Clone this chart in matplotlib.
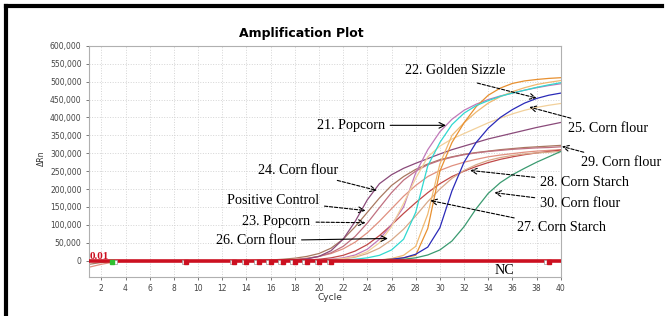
import numpy as np
import matplotlib.pyplot as plt
from matplotlib.ticker import FuncFormatter, MultipleLocator
from matplotlib.lines import Line2D

# циклы ПЦР
cycles = list(range(1, 41))

# значения dRn (тыс.), прочитаны с графика по циклам 1..40
brown = [-10, -5, -2, 0, 0, 0, 0, 0, 0, 0, 0, 0, 0, 0, 1, 2, 4, 7, 12, 20,
         35, 60, 95, 135, 175, 210, 235, 255, 270, 282, 290, 297, 302, 306, 310, 313, 316, 318, 320, 322]
salmon = [-18, -10, -4, -1, 0, 0, 0, 0, 0, 0, 0, 0, 0, 0, 0, 1, 2, 4, 7, 12,
          20, 33, 52, 78, 110, 145, 180, 210, 235, 252, 265, 275, 283, 290, 295, 299, 303, 306, 308, 310]
rose = [0, 0, 0, 0, 0, 0, 0, 0, 0, 0, 0, 0, 0, 0, 0, 0, 1, 3, 6, 12,
        22, 40, 68, 105, 148, 190, 225, 250, 268, 280, 289, 296, 301, 305, 308, 311, 313, 315, 316, 318]
red = [0, 0, 0, 0, 0, 0, 0, 0, 0, 0, 0, 0, 0, 0, 0, 0, 0, 1, 2, 4,
       8, 15, 27, 45, 70, 100, 132, 162, 190, 215, 235, 250, 263, 274, 283, 290, 296, 301, 305, 309]
tan = [0, 0, 0, 0, 0, 0, 0, 0, 0, 0, 0, 0, 0, 0, 0, 0, 0, 0, 0, 1,
       2, 5, 10, 20, 35, 58, 88, 125, 165, 200, 230, 252, 268, 280, 288, 294, 298, 301, 303, 305]
mauve = [0, 0, 0, 0, 0, 0, 0, 0, 0, 0, 0, 0, 0, 0, 0, 0, 1, 2, 5, 12,
         28, 60, 110, 170, 215, 240, 258, 272, 285, 298, 310, 320, 330, 340, 348, 356, 364, 372, 379, 386]
pink = [0, 0, 0, 0, 0, 0, 0, 0, 0, 0, 0, 0, 0, 0, 0, 0, 0, 0, 1, 2,
        4, 8, 16, 32, 60, 100, 150, 245, 310, 360, 395, 420, 437, 450, 460, 468, 476, 483, 489, 494]
cyan = [0, 0, 0, 0, 0, 0, 0, 0, 0, 0, 0, 0, 0, 0, 0, 0, 0, 0, 0, 0,
        1, 2, 4, 8, 15, 30, 60, 135, 265, 330, 380, 412, 433, 447, 459, 468, 476, 484, 491, 497]
peach = [0, 0, 0, 0, 0, 0, 0, 0, 0, 0, 0, 0, 0, 0, 0, 0, 0, 0, 0, 1,
         3, 6, 12, 25, 50, 95, 160, 230, 290, 320, 340, 355, 370, 385, 398, 410, 420, 428, 434, 439]
lorange = [0, 0, 0, 0, 0, 0, 0, 0, 0, 0, 0, 0, 0, 0, 0, 0, 0, 0, 0, 0,
           0, 0, 0, 0, 2, 6, 15, 40, 130, 270, 350, 385, 415, 440, 458, 472, 483, 492, 498, 503]
orange = [0, 0, 0, 0, 0, 0, 0, 0, 0, 0, 0, 0, 0, 0, 0, 0, 0, 0, 0, 0,
          0, 0, 0, 1, 2, 4, 8, 15, 90, 250, 330, 385, 430, 462, 482, 495, 502, 506, 509, 511]
blue = [0, 0, 0, 0, 0, 0, 0, 0, 0, 0, 0, 0, 0, 0, 0, 0, 0, 0, 0, 0,
        0, 0, 0, 1, 2, 4, 8, 18, 38, 92, 195, 275, 330, 370, 400, 422, 440, 453, 462, 468]
green = [0, 0, 0, 0, 0, 0, 0, 0, 0, 0, 0, 0, 0, 0, 0, 0, 0, 0, 0, 0,
         0, 0, 0, 0, 1, 2, 4, 8, 16, 30, 55, 95, 145, 188, 218, 240, 258, 275, 290, 305]

curves = [brown, salmon, rose, red, tan, mauve, pink, peach, lorange, orange, cyan, blue, green]
colors = ['#a87860', '#e09080', '#c07080', '#c04848', '#d8a888', '#8a4a7a', '#c078b8',
          '#f2d09a', '#f0b870', '#e89030', '#30d8d0', '#2a2ab8', '#3a9a70']

# маркеры на линии порога
red_marks = [9, 13, 14, 15, 16, 17, 18, 19, 20, 21, 39]
green_marks = [2.85]

serif = 'Liberation Serif'
fs = 10.2

fig = plt.figure(figsize=(6.66, 3.16), dpi=100)
ax = fig.add_axes([0.134, 0.124, 0.708, 0.731])

for vals, c in zip(curves, colors):
    ax.plot(cycles, np.array(vals) * 1000, color=c, lw=0.9)

# порог
ax.axhline(0, color='#cc1020', lw=2.6, zorder=5)
ax.plot(np.array(red_marks) - 0.2, [-4000] * len(red_marks), 's', ms=3,
        mfc='white', mec='#999999', mew=0.5, zorder=6)
ax.plot(red_marks, [-4000] * len(red_marks), 's', ms=3, color='#cc1020', zorder=7)
ax.plot(np.array(green_marks) + 0.25, [-4000], 's', ms=3, mfc='white', mec='#999999', mew=0.5, zorder=6)
ax.plot(green_marks, [-4000], 's', ms=3, color='#30c030', zorder=7)
ax.text(1.0, 4000, '0.01', color='#cc1020', fontsize=8, family=serif, fontweight='bold', zorder=8)

ax.set_xlim(1, 40)
ax.set_ylim(-45000, 600000)
ax.xaxis.set_major_locator(MultipleLocator(2))
ax.yaxis.set_major_locator(MultipleLocator(50000))
ax.yaxis.set_major_formatter(FuncFormatter(lambda v, p: '{:,.0f}'.format(v)))
ax.tick_params(labelsize=5.5, colors='#444444', length=2, width=0.5)
ax.grid(True, color='#d4d4d4', ls=':', lw=0.7)
for s in ax.spines.values():
    s.set_color('#b0b0b0')
    s.set_linewidth(0.8)

fig.text(0.453, 0.895, 'Amplification Plot', ha='center', va='center', fontsize=9, fontweight='bold')
fig.text(0.062, 0.5, 'ΔRn', rotation=90, ha='center', va='center', fontsize=5.5, color='#333333')
fig.text(0.495, 0.058, 'Cycle', ha='center', va='center', fontsize=6.5, color='#333333')


def note(text, xy, xytext, ha, dashed=True):
    ax.annotate(text, xy=xy, xytext=xytext, ha=ha, va='center', fontsize=fs, family=serif,
                annotation_clip=False,
                arrowprops=dict(arrowstyle='->', color='black', lw=0.8,
                                ls=(0, (3, 1.5)) if dashed else '-', shrinkA=2, shrinkB=0))


# подписи справа
ax.annotate('22. Golden Sizzle', xy=(38.0, 454000), xytext=(27.1, 532000), fontsize=fs, family=serif,
            va='center', annotation_clip=False)
ax.annotate('', xy=(38.0, 454000), xytext=(33.1, 496000),
            arrowprops=dict(arrowstyle='->', color='black', lw=0.8, ls=(0, (3, 1.5)), shrinkA=0, shrinkB=0))
note('21. Popcorn', (30.5, 378000), (19.8, 378000), 'left', dashed=False)
note('25. Corn flour', (37.4, 429000), (40.6, 370000), 'left')
note('29. Corn flour', (40.1, 319000), (41.7, 275000), 'left')
note('28. Corn Starch', (32.5, 252000), (38.3, 218000), 'left')
note('30. Corn flour', (34.5, 190000), (38.3, 160000), 'left')
note('27. Corn Starch', (29.2, 168000), (36.4, 92000), 'left')
note('24. Corn flour', (24.8, 196000), (21.6, 252000), 'right')
note('Positive Control', (23.85, 140000), (20.0, 168000), 'right')
note('23. Popcorn', (23.85, 106000), (19.3, 109000), 'right')
note('26. Corn flour', (25.7, 62000), (18.1, 56000), 'right', dashed=False)
ax.text(35.3, -28000, 'NC', fontsize=fs, family=serif, ha='center', va='center')

# рамка
fig.add_artist(Line2D([0.009, 0.009], [0, 0.982], transform=fig.transFigure, color='black', lw=3))
fig.add_artist(Line2D([0.009, 0.994], [0.982, 0.982], transform=fig.transFigure, color='black', lw=3))

fig.savefig('out.png', dpi=100)
